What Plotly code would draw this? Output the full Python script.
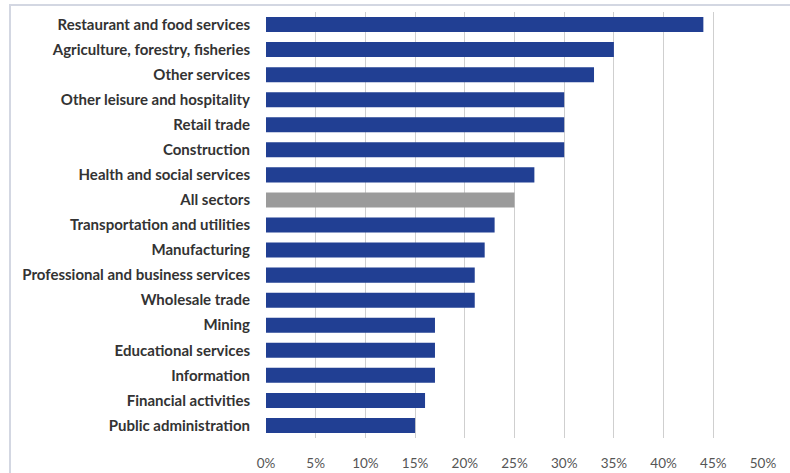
import plotly.graph_objects as go

categories = [
    "Restaurant and food services",
    "Agriculture, forestry, fisheries",
    "Other services",
    "Other leisure and hospitality",
    "Retail trade",
    "Construction",
    "Health and social services",
    "All sectors",
    "Transportation and utilities",
    "Manufacturing",
    "Professional and business services",
    "Wholesale trade",
    "Mining",
    "Educational services",
    "Information",
    "Financial activities",
    "Public administration",
]
values = [44, 35, 33, 30, 30, 30, 27, 25, 23, 22, 21, 21, 17, 17, 17, 16, 15]
tick_vals = [0, 5, 10, 15, 20, 25, 30, 35, 40, 45, 50]
tick_text = ["0%", "5%", "10%", "15%", "20%", "25%", "30%", "35%", "40%", "45%", "50%"]

BLUE = "#213f93"
GRAY = "#9b9b9b"
colors = [GRAY if c == "All sectors" else BLUE for c in categories]

fig = go.Figure(
    go.Bar(
        x=values,
        y=categories,
        orientation="h",
        marker=dict(color=colors, line=dict(width=0)),
        width=0.6,
        hoverinfo="x+y",
    )
)

W, H = 790, 473
ml, mr, mt, mb = 266, 27, 12, 35
pw, ph = W - ml - mr, H - mt - mb

fig.update_layout(
    width=W,
    height=H,
    margin=dict(l=ml, r=mr, t=mt, b=mb, autoexpand=False),
    paper_bgcolor="white",
    plot_bgcolor="white",
    showlegend=False,
    font=dict(family="Lato", color="#333333"),
    xaxis=dict(
        range=[0, 50],
        tickvals=tick_vals,
        ticktext=tick_text,
        showgrid=True,
        gridcolor="#cfcfcf",
        gridwidth=1,
        zeroline=False,
        showline=False,
        ticks="",
        ticklabelstandoff=15,
        tickfont=dict(family="Lato", size=13.5, color="#555555"),
        automargin=False,
        fixedrange=True,
    ),
    yaxis=dict(
        categoryorder="array",
        categoryarray=categories,
        autorange="reversed",
        showgrid=False,
        zeroline=False,
        showline=False,
        ticks="",
        ticklabelstandoff=15,
        tickfont=dict(family="Lato", size=15, color="#333333", weight="bold"),
        automargin=False,
        fixedrange=True,
    ),
    shapes=[
        dict(
            type="rect",
            xref="paper",
            yref="paper",
            x0=(10 - ml) / pw,
            x1=(W + 20 - ml) / pw,
            y0=-(mb + 20) / ph,
            y1=1 + (mt - 5) / ph,
            line=dict(color="#d3d7e2", width=2),
            fillcolor="rgba(0,0,0,0)",
            layer="below",
        )
    ],
)

fig.write_html(
    "out.html",
    config={"displayModeBar": False},
    post_script="document.body.style.margin='0';document.body.style.overflow='hidden';",
)
